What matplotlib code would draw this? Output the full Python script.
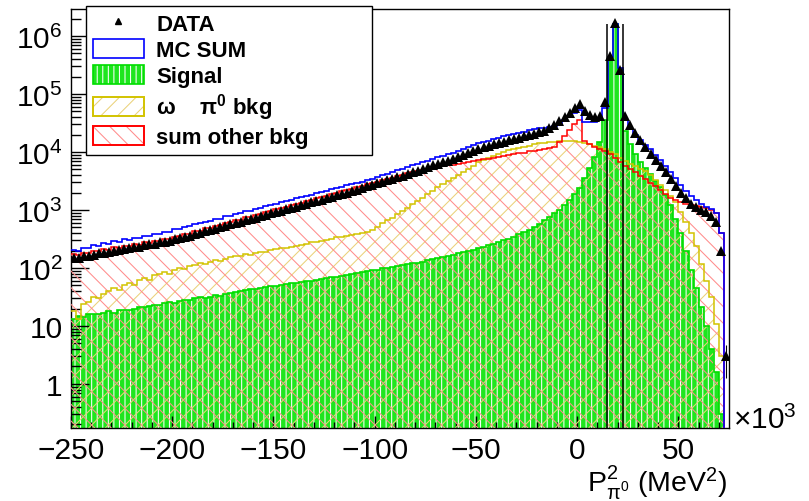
import numpy as np
import matplotlib
matplotlib.use("Agg")
import matplotlib.pyplot as plt
from matplotlib.patches import Patch
from matplotlib.lines import Line2D
from matplotlib.legend_handler import HandlerTuple
from matplotlib.ticker import MultipleLocator, FixedLocator, LogLocator, FuncFormatter, NullFormatter

plt.rcParams['font.family'] = ['Liberation Sans', 'DejaVu Sans']
plt.rcParams['mathtext.fontset'] = 'custom'
plt.rcParams['mathtext.rm'] = 'Liberation Sans'
plt.rcParams['mathtext.it'] = 'Liberation Sans:italic'
plt.rcParams['mathtext.bf'] = 'Liberation Sans:bold'
plt.rcParams['hatch.linewidth'] = 0.75

# P^2 of the pi0 in units of 10^3 MeV^2, 2.5-wide bins
edges = np.arange(-250.0, 75.0 + 1e-9, 2.5)

other_bkg = [
    172, 165, 183, 178, 197, 193, 214, 206, 226, 221,
    242, 235, 259, 252, 276, 270, 293, 288, 311, 312,
    346, 349, 387, 390, 432, 438, 482, 489, 538, 546,
    598, 611, 668, 684, 745, 764, 830, 855, 925, 955,
    1032, 1076, 1138, 1202, 1290, 1343, 1419, 1480, 1585, 1675,
    1770, 1900, 1977, 2089, 2208, 2300, 2466, 2606, 2790, 2911,
    3076, 3251, 3400, 3631, 3837, 4055, 4285, 4530, 4699, 4898,
    5082, 5230, 5470, 5662, 5861, 6067, 6266, 6486, 6714, 7010,
    7194, 7447, 7709, 7980, 8260, 8511, 8750, 9120, 9441, 9772,
    10200, 10471, 10839, 11220, 11750, 12300, 14800, 18600, 24000, 30200,
    36300, 15500, 13800, 12300, 11200, 10200, 9120, 7940, 6610, 5750,
    5010, 4470, 3890, 3390, 2950, 2570, 2190, 1860, 1620, 1480,
    1380, 1290, 1230, 1175, 1120, 1070, 1000, 890, 400, 0,
]

omega_bkg = [
    18, 13, 24, 26, 32, 30, 36, 40, 46, 42,
    50, 55, 51, 62, 66, 63, 76, 79, 85, 79,
    93, 100, 95, 107, 112, 120, 115, 129, 135, 132,
    145, 155, 158, 162, 174, 170, 182, 190, 186, 204,
    209, 219, 224, 234, 240, 251, 257, 275, 282, 295,
    309, 316, 339, 347, 363, 372, 389, 398, 417, 457,
    513, 589, 661, 741, 851, 977, 1096, 1259, 1413, 1622,
    1862, 2138, 2455, 2818, 3162, 3548, 3981, 4571, 5129, 5754,
    6607, 7244, 7762, 8511, 9120, 10000, 10715, 11220, 11750, 12300,
    12880, 13490, 14130, 14450, 14790, 15140, 15310, 15490, 15490, 15310,
    15140, 14450, 13800, 12880, 12020, 11220, 10000, 9120, 7940, 7080,
    6310, 5750, 5130, 4680, 3980, 3310, 2690, 2190, 1740, 1350,
    933, 631, 398, 240, 117, 60, 32, 11, 3, 0,
]

signal = [
    13, 15, 14, 16, 16, 16, 17, 18, 17, 19,
    19, 19, 20, 21, 21, 22, 23, 23, 25, 26,
    25, 27, 28, 28, 30, 31, 30, 32, 34, 33,
    35, 37, 38, 40, 41, 43, 44, 45, 47, 48,
    49, 51, 52, 54, 55, 58, 59, 60, 63, 65,
    66, 69, 71, 74, 76, 79, 81, 85, 87, 91,
    93, 98, 100, 105, 107, 112, 115, 120, 123, 129,
    135, 141, 148, 155, 162, 170, 178, 186, 195, 204,
    219, 234, 251, 263, 282, 302, 316, 347, 380, 417,
    457, 501, 575, 661, 759, 871, 1000, 1202, 1479, 1862,
    2399, 3548, 5248, 8318, 15136, 35480, 417000, 1585000, 263000, 22900,
    13800, 9330, 6760, 5250, 4170, 3160, 2450, 1780, 1200, 708,
    398, 200, 93, 45, 21, 10, 4, 1.6, 0.3, 0,
]

data_counts = [
    148, 151, 158, 162, 170, 178, 182, 191, 195, 204,
    214, 219, 229, 234, 245, 257, 263, 275, 282, 295,
    316, 331, 347, 363, 389, 407, 427, 457, 479, 501,
    537, 562, 589, 631, 661, 708, 741, 794, 832, 871,
    933, 977, 1047, 1096, 1148, 1202, 1288, 1349, 1413, 1514,
    1585, 1660, 1778, 1862, 1950, 2089, 2239, 2399, 2570, 2692,
    2884, 3090, 3236, 3467, 3715, 3890, 4169, 4467, 4786, 5129,
    5495, 5888, 6166, 6607, 7079, 7586, 8128, 8913, 9550, 10230,
    11220, 12020, 12880, 13800, 14450, 15140, 15850, 16600, 17380, 18620,
    19500, 20420, 21880, 23440, 25700, 28840, 33880, 39810, 47860, 57540,
    66070, 50120, 42660, 39810, 41690, 72440, 446700, 1660000, 263000, 41690,
    29510, 21380, 15850, 12020, 9333, 7413, 5754, 4467, 3467, 2630,
    1995, 1585, 1288, 1122, 1000, 912, 794, 631, 200, 3,
]

cut_lo, cut_hi = 14.7, 22.7
cut_top = 1.6e6

other_bkg = np.asarray(other_bkg, float)
omega_bkg = np.asarray(omega_bkg, float)
signal = np.asarray(signal, float)
data_counts = np.asarray(data_counts, float)
mc_sum = signal + omega_bkg + other_bkg
centers = 0.5 * (edges[:-1] + edges[1:])

FLOOR = 1e-3
def pos(v):
    return np.clip(v, FLOOR, None)

GREEN = '#1ee61e'
GREEN_LINE = '#00dd00'
Y_HATCH = '#ead27a'
Y_LINE = '#d2c300'
R_HATCH = '#ff8c8c'
R_LINE = '#ff0000'
BLUE = '#0000ff'

W, H = 809, 502
fig = plt.figure(figsize=(W / 100, H / 100), dpi=100)
ax = fig.add_axes([71 / W, 1 - 429 / H, (729 - 71) / W, (429 - 9.5) / H])
ax.set_yscale('log')

# filled / hatched components
ax.stairs(pos(signal), edges, baseline=FLOOR, fill=True, facecolor=GREEN,
          edgecolor='white', hatch='|||', linewidth=0, zorder=1)
ax.stairs(pos(omega_bkg), edges, baseline=FLOOR, fill=True, facecolor='none',
          edgecolor=Y_HATCH, hatch='//', linewidth=0, zorder=2)
ax.stairs(pos(other_bkg), edges, baseline=FLOOR, fill=True, facecolor='none',
          edgecolor=R_HATCH, hatch='\\\\', linewidth=0, zorder=3)

# outlines
ax.stairs(pos(signal), edges, baseline=None, color=GREEN_LINE, lw=1.2, zorder=4)
ax.stairs(pos(omega_bkg), edges, baseline=None, color=Y_LINE, lw=1.1, zorder=5)
ax.stairs(pos(other_bkg), edges, baseline=None, color=R_LINE, lw=1.1, zorder=6)
ax.stairs(pos(mc_sum), edges, baseline=None, color=BLUE, lw=1.2, zorder=7)

# data points
mask = data_counts > 0
ax.errorbar(centers[mask], data_counts[mask], yerr=np.sqrt(data_counts[mask]),
            fmt='^', ms=6.5, mew=0, color='black', elinewidth=0.8,
            capsize=0, zorder=8)

# selection window
ax.vlines([cut_lo, cut_hi], FLOOR, cut_top, color='black', lw=1.1, zorder=9)

ax.set_xlim(-250, 75)
ax.set_ylim(0.174, 2.98e6)

ax.xaxis.set_major_locator(MultipleLocator(50))
ax.xaxis.set_minor_locator(MultipleLocator(10))
ax.yaxis.set_major_locator(FixedLocator([1, 1e1, 1e2, 1e3, 1e4, 1e5, 1e6]))
ax.yaxis.set_minor_locator(LogLocator(base=10, subs=np.arange(2, 10), numticks=40))
ax.yaxis.set_minor_formatter(NullFormatter())

def ylab(v, p):
    n = int(round(np.log10(v)))
    if n == 0:
        return '1'
    if n == 1:
        return '10'
    return r'$\mathregular{10^{%d}}$' % n
ax.yaxis.set_major_formatter(FuncFormatter(ylab))

ax.tick_params(which='both', direction='in', top=False, right=False, width=1)
ax.tick_params(axis='x', which='major', length=9, labelsize=21.5, pad=6)
ax.tick_params(axis='x', which='minor', length=4.5)
ax.tick_params(axis='y', which='major', length=13, labelsize=21.5, pad=6)
ax.tick_params(axis='y', which='minor', length=7)
for s in ax.spines.values():
    s.set_linewidth(1.0)

fig.text(733 / W, 1 - 429 / H, r'$\mathregular{\times10^{3}}$', fontsize=21.5,
         ha='left', va='baseline')
fig.text(727 / W, 1 - 492 / H, r'$\mathregular{P^{2}_{\pi^{0}}\ (MeV^{2})}$',
         fontsize=20.5, ha='right', va='baseline')

handles = [
    Line2D([], [], marker='^', color='black', linestyle='none', markersize=4),
    Patch(facecolor='white', edgecolor=BLUE, linewidth=1.2),
    (Patch(facecolor=GREEN, edgecolor='white', hatch='|||', linewidth=0),
     Patch(facecolor='none', edgecolor=GREEN_LINE, linewidth=1.2)),
    (Patch(facecolor='none', edgecolor=Y_HATCH, hatch='//', linewidth=0),
     Patch(facecolor='none', edgecolor=Y_LINE, linewidth=1.4)),
    (Patch(facecolor='none', edgecolor=R_HATCH, hatch='\\\\', linewidth=0),
     Patch(facecolor='none', edgecolor=R_LINE, linewidth=1.4)),
]
labels = ['DATA', 'MC SUM', 'Signal', r'ω    π$^{\mathbf{0}}$ bkg', 'sum other bkg']

leg = fig.legend(handles, labels, loc='upper left',
                 bbox_to_anchor=(86 / W, 1 - 148 / H, 286 / W, 141 / H),
                 mode='expand', prop={'weight': 'bold', 'size': 16},
                 handlelength=2.3, handleheight=0.95, handletextpad=0.55,
                 labelspacing=0.18, borderpad=0.3, borderaxespad=0,
                 frameon=True, fancybox=False, framealpha=1,
                 handler_map={tuple: HandlerTuple(ndivide=1, pad=0)})
leg.get_frame().set_edgecolor('black')
leg.get_frame().set_linewidth(1.0)

fig.savefig('out.png', dpi=100)
